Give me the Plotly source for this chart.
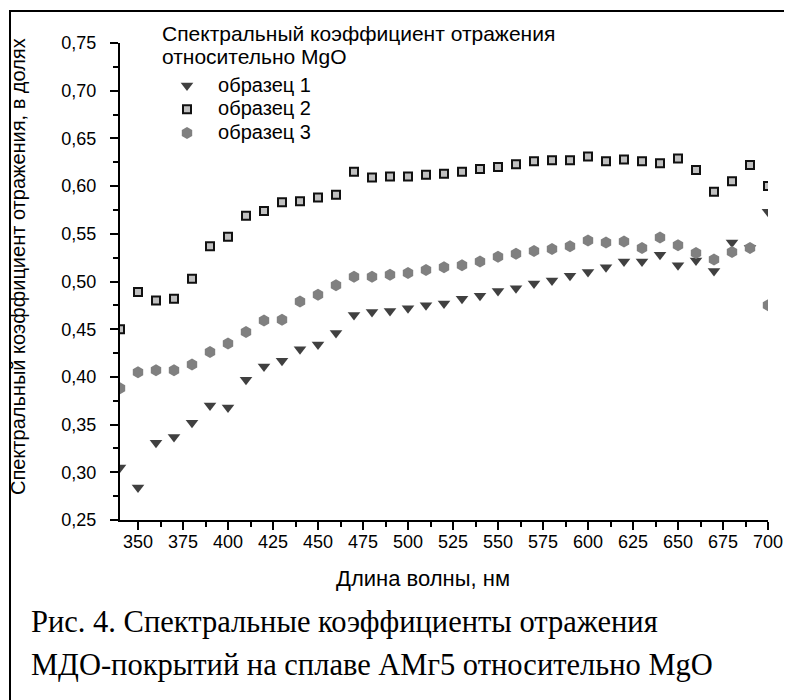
import plotly.graph_objects as go

wavelength = [340, 350, 360, 370, 380, 390, 400, 410, 420, 430, 440, 450, 460, 470, 480, 490,
              500, 510, 520, 530, 540, 550, 560, 570, 580, 590, 600, 610, 620, 630, 640, 650,
              660, 670, 680, 690, 700]

sample1 = [0.305, 0.284, 0.331, 0.337, 0.352, 0.370, 0.368, 0.397, 0.411, 0.417, 0.429, 0.434,
           0.446, 0.465, 0.468, 0.469, 0.472, 0.475, 0.477, 0.482, 0.485, 0.490, 0.493, 0.498,
           0.501, 0.506, 0.510, 0.515, 0.521, 0.521, 0.528, 0.517, 0.522, 0.511, 0.541, 0.535,
           0.573]

sample2 = [0.450, 0.489, 0.480, 0.482, 0.503, 0.537, 0.547, 0.569, 0.574, 0.583, 0.584, 0.588,
           0.591, 0.615, 0.609, 0.610, 0.610, 0.612, 0.613, 0.615, 0.618, 0.620, 0.623, 0.626,
           0.627, 0.627, 0.631, 0.626, 0.628, 0.626, 0.624, 0.629, 0.617, 0.594, 0.605, 0.622,
           0.600]

sample3 = [0.388, 0.405, 0.407, 0.407, 0.413, 0.426, 0.435, 0.447, 0.459, 0.460, 0.479, 0.486,
           0.496, 0.505, 0.505, 0.507, 0.509, 0.512, 0.515, 0.517, 0.521, 0.526, 0.529, 0.532,
           0.534, 0.537, 0.543, 0.541, 0.542, 0.535, 0.546, 0.538, 0.530, 0.523, 0.531, 0.535,
           0.475]

series_names = ["образец 1", "образец 2", "образец 3"]
legend_title_lines = ["Спектральный коэффициент отражения", "относительно MgO"]
x_title = "Длина волны, нм"
y_title = "Спектральный коэффициент отражения, в долях"
caption_lines = ["Рис. 4. Спектральные коэффициенты отражения",
                 "МДО-покрытий на сплаве АМг5 относительно MgO"]

SANS = "Liberation Sans, Arial, sans-serif"
SERIF = "Liberation Serif, Times New Roman, serif"

def legend_name(s):
    return '<span style="font-size:20px">\u00a0\u00a0' + s + '</span>'

fig = go.Figure()
fig.add_trace(go.Scatter(
    x=wavelength, y=sample1, mode="markers", name=legend_name(series_names[0]),
    marker=dict(symbol="triangle-down", size=11, color="#404040", line=dict(width=0))))
fig.add_trace(go.Scatter(
    x=wavelength, y=sample2, mode="markers", name=legend_name(series_names[1]),
    marker=dict(symbol="square", size=8, color="#c0c0c0", line=dict(width=2, color="#111111"))))
fig.add_trace(go.Scatter(
    x=wavelength, y=sample3, mode="markers", name=legend_name(series_names[2]),
    marker=dict(symbol="hexagon", size=12, color="#808080", line=dict(width=0))))

# page body has an 8px margin: figure is drawn offset by (8, 8)
OFF = 8
W, H = 784, 692
L, R, T, B = 112, 24, 35, 180
pw, ph = W - L - R, H - T - B

def px(xs):
    return (xs - OFF - L) / pw

def py(ys):
    return (H - B - (ys - OFF)) / ph

annotations = [
    dict(text=legend_title_lines[0], xref="paper", yref="paper", x=px(160), y=py(33),
         xanchor="left", yanchor="middle", showarrow=False,
         font=dict(family=SANS, size=21, color="black")),
    dict(text=legend_title_lines[1], xref="paper", yref="paper", x=px(160), y=py(57),
         xanchor="left", yanchor="middle", showarrow=False,
         font=dict(family=SANS, size=21, color="black")),
    dict(text=x_title, xref="paper", yref="paper", x=px(423), y=py(578),
         xanchor="center", yanchor="middle", showarrow=False,
         font=dict(family=SANS, size=22, color="black")),
    dict(text=y_title, xref="paper", yref="paper", x=px(18), y=py(267),
         xanchor="center", yanchor="middle", showarrow=False, textangle=-90,
         font=dict(family=SANS, size=20, color="black")),
    dict(text=caption_lines[0], xref="paper", yref="paper", x=px(29), y=py(622),
         xanchor="left", yanchor="middle", showarrow=False,
         font=dict(family=SERIF, size=30.5, color="black")),
    dict(text=caption_lines[1], xref="paper", yref="paper", x=px(29), y=py(665),
         xanchor="left", yanchor="middle", showarrow=False,
         font=dict(family=SERIF, size=30.5, color="black")),
]

fig.update_layout(
    template="none",
    width=W, height=H,
    margin=dict(l=L, r=R, t=T, b=B, autoexpand=False),
    paper_bgcolor="white", plot_bgcolor="white",
    separators=", ",
    font=dict(family=SANS, size=18, color="black"),
    showlegend=True,
    legend=dict(
        x=px(167), y=py(68.5), xanchor="left", yanchor="top",
        bgcolor="rgba(0,0,0,0)", borderwidth=0,
        font=dict(family=SANS, size=16, color="black"),
        itemsizing="trace", tracegroupgap=0,
    ),
    xaxis=dict(
        range=[340, 700], tick0=350, dtick=25, showgrid=False, zeroline=False, automargin=False,
        showline=True, linecolor="black", linewidth=2,
        ticks="outside", ticklen=8, tickwidth=1.5, tickcolor="black",
        ticklabelstandoff=-4,
        tickfont=dict(family=SANS, size=18, color="black"),
        minor=dict(dtick=12.5, ticks="outside", ticklen=5, tickwidth=1.5, tickcolor="black"),
    ),
    yaxis=dict(
        range=[0.25, 0.75], tick0=0.25, dtick=0.05, tickformat=".2f", showgrid=False,
        zeroline=False, automargin=False,
        showline=True, linecolor="black", linewidth=2,
        ticks="outside", ticklen=8, tickwidth=1.5, tickcolor="black",
        ticklabelstandoff=10,
        tickfont=dict(family=SANS, size=18, color="black"),
        minor=dict(dtick=0.025, ticks="outside", ticklen=5, tickwidth=1.5, tickcolor="black"),
    ),
    annotations=annotations,
    shapes=[
        dict(type="line", xref="paper", yref="paper", x0=px(10), x1=px(10), y0=py(10), y1=py(720),
             line=dict(color="black", width=2)),
        dict(type="line", xref="paper", yref="paper", x0=px(9), x1=px(820), y0=py(11), y1=py(11),
             line=dict(color="black", width=2)),
    ],
)

fig.write_html("out.html")
